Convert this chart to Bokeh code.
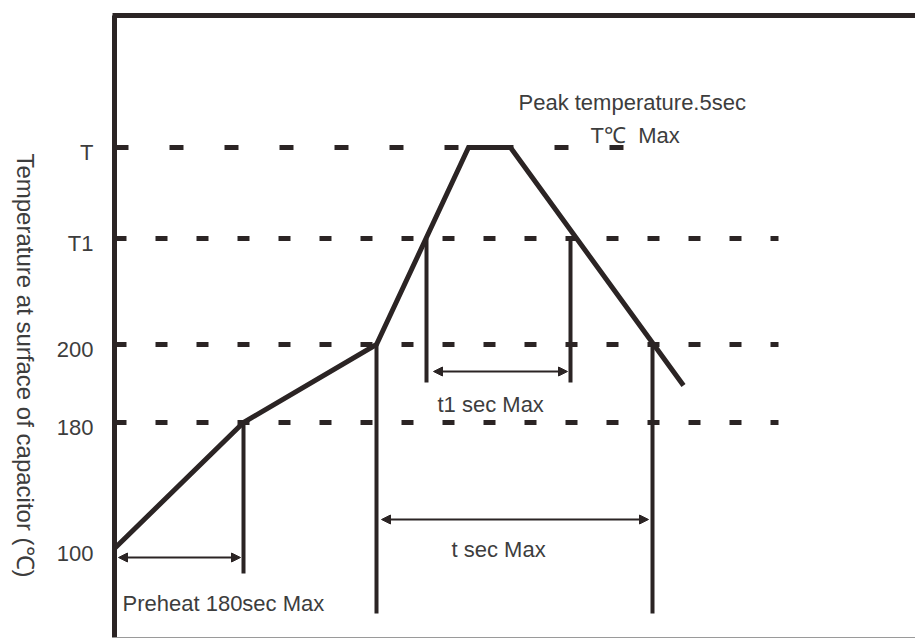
import math
from bokeh.plotting import figure
from bokeh.models import Range1d, Arrow, NormalHead, ColumnDataSource
from bokeh.core.properties import value
from bokeh.embed import file_html
from bokeh.resources import INLINE

# ---- data (diagram units: x = time, y = temperature level) ----
level_names = ["T", "T1", "200", "180", "100"]
level_values = [490, 399, 293, 215, 89]

profile_time = [0, 129, 262, 354, 396, 569]
profile_temp = [89, 215, 293, 490, 490, 252]

marker_x = [129, 262, 312, 456, 538]
marker_top = [215, 293, 399, 399, 293]
marker_bottom = [64, 24, 255, 255, 24]

arrow_x0 = [4, 319, 267]
arrow_x1 = [126, 453, 534]
arrow_y = [80, 266, 118]

ref_levels = [490, 399, 293, 215]
ref_end = [509, 664, 664, 664]

notes = ["Peak temperature.5sec", "T\u2103\u00a0\u00a0Max", "t1 sec Max", "t sec Max", "Preheat 180sec Max"]
note_x = [404, 476, 323, 337, 8]
note_y = [535, 502, 233, 88, 34]

axis_title = "Temperature at surface of capacitor (\u2103)"

# diagram extents
x_min, x_max = 0, 801
y_min, y_max = 0, 622

INK = "#2b2424"
TXT = "#3d3d3d"
FONT = "Liberation Sans"

p = figure(width=915, height=639, x_range=Range1d(-114, 801), y_range=Range1d(-2, 637),
           output_backend="svg", toolbar_location=None,
           x_axis_location=None, y_axis_location=None,
           min_border_left=0, min_border_top=0, min_border_right=0, min_border_bottom=0)
p.outline_line_color = None
p.grid.visible = False
p.background_fill_color = "white"
p.border_fill_color = "white"

# frame: thick left and top, thin grey bottom
p.segment(x0=[x_min], y0=[y_min], x1=[x_min], y1=[y_max], line_color=INK, line_width=5)
p.segment(x0=[x_min - 2], y0=[y_max], x1=[x_max], y1=[y_max], line_color=INK, line_width=5)
p.segment(x0=[x_min], y0=[y_min], x1=[x_max], y1=[y_min], line_color="#9a9a9a", line_width=1)

# level labels
p.text(x=[x_min] * len(level_values), y=level_values, text=level_names, x_offset=-21, y_offset=5,
       text_font=value(FONT), text_font_size="22px", text_color=TXT,
       text_align="right", text_baseline="middle")

# axis title (reads top-to-bottom)
p.text(x=[-89], y=[272], text=[axis_title], angle=-math.pi / 2,
       text_font=value(FONT), text_font_size="24px", text_color=TXT,
       text_align="center", text_baseline="middle")

# dashed reference lines
for i, (lv, xe) in enumerate(zip(ref_levels, ref_end)):
    dash = "14 41" if i == 0 else "12 29"
    p.line([x_min, xe], [lv, lv], line_color=INK, line_width=5, line_dash=dash)

# vertical markers
p.segment(x0=marker_x, y0=marker_bottom, x1=marker_x, y1=marker_top, line_color=INK, line_width=4)

# profile
p.line(profile_time, profile_temp, line_color=INK, line_width=5, line_join="miter")

# arrows
asrc = ColumnDataSource(dict(x0=arrow_x0, x1=arrow_x1, y=arrow_y))
p.add_layout(Arrow(start=NormalHead(size=9, fill_color=INK, line_color=INK),
                   end=NormalHead(size=9, fill_color=INK, line_color=INK),
                   x_start="x0", y_start="y", x_end="x1", y_end="y",
                   line_color=INK, line_width=2, source=asrc))

# text notes
p.text(x=note_x, y=note_y, text=notes, text_font=value(FONT), text_font_size="22px",
       text_color=TXT, text_align="left", text_baseline="alphabetic")

open("out.html", "w").write(file_html(p, INLINE))
